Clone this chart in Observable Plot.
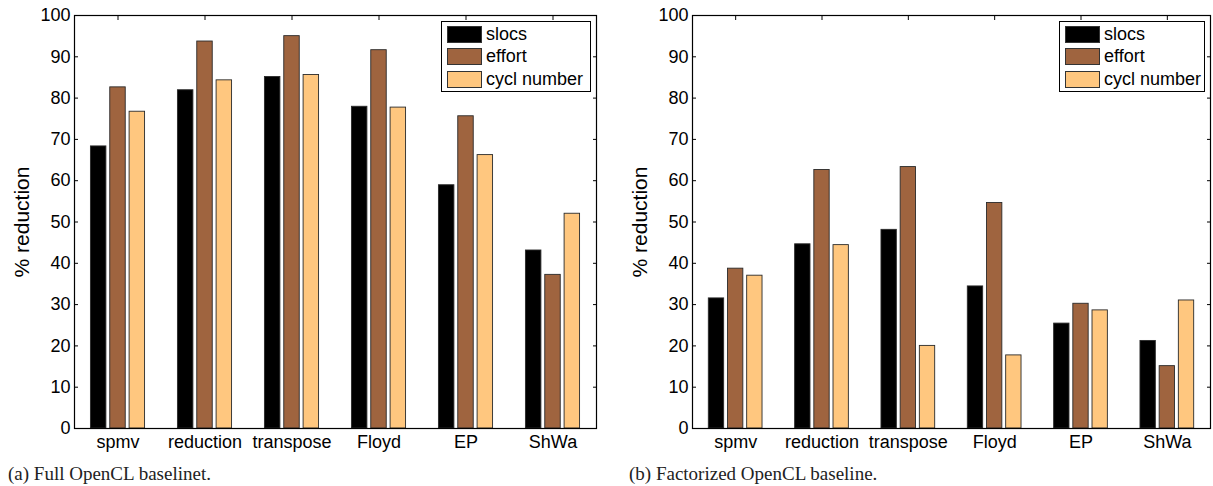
<!DOCTYPE html>
<html>
<head>
<meta charset="utf-8">
<script src="https://cdn.jsdelivr.net/npm/d3@7"></script>
<script src="https://cdn.jsdelivr.net/npm/@observablehq/plot@0.6"></script>
<style>
  body { margin: 0; background: white; }
  #root { position: relative; width: 1213px; height: 486px; background: white; overflow: hidden; }
  .panel { position: absolute; top: 0; }
  .caption { position: absolute; font-family: "Liberation Serif", serif; font-size: 19px; line-height: 22px; color: #222; white-space: nowrap; }
  .legend { position: absolute; box-sizing: border-box; height: 71px; border: 1px solid #000; background: #fff; font-family: "Liberation Sans", Arial, sans-serif; font-size: 18px; color: #000; }
  .legend .row { position: absolute; left: 5px; height: 18px; display: flex; align-items: center; white-space: nowrap; }
  .legend .sw { width: 35px; height: 17px; box-sizing: border-box; border: 1px solid #333; margin-right: 4px; }
</style>
</head>
<body>
<div id="root"></div>
<script>
const categories = ["spmv", "reduction", "transpose", "Floyd", "EP", "ShWa"];
const series = ["slocs", "effort", "cycl number"];
const seriesColors = ["#000000", "#9F643F", "#FFC77F"];
const yTicks = [0, 10, 20, 30, 40, 50, 60, 70, 80, 90, 100];
const yLabel = "% reduction";

// (a) Full OpenCL baseline
const fullSlocs  = [68.3, 81.9, 85.1, 77.9, 58.9, 43.1];
const fullEffort = [82.6, 93.7, 95.0, 91.6, 75.6, 37.2];
const fullCycl   = [76.7, 84.3, 85.6, 77.7, 66.2, 52.0];
const captionA = "(a) Full OpenCL baselinet.";

// (b) Factorized OpenCL baseline
const factSlocs  = [31.5, 44.6, 48.1, 34.4, 25.4, 21.2];
const factEffort = [38.7, 62.6, 63.3, 54.6, 30.2, 15.1];
const factCycl   = [37.0, 44.4, 20.0, 17.7, 28.6, 31.0];
const captionB = "(b) Factorized OpenCL baseline.";

function makePanel({values, left, width, marginLeft, marginRight, caption, captionLeft, legendLeft, legendWidth}) {
  const rows = [];
  series.forEach((s, j) => categories.forEach((c, i) => rows.push({cat: c, series: s, value: values[j][i]})));
  const step = (width - marginLeft - marginRight) / categories.length;
  const slot = step * 2 / 9;
  const half = slot * 0.4;

  const barMarks = series.map((s, j) => Plot.barY(rows.filter(r => r.series === s), {
    x: "cat", y: "value", fill: seriesColors[j], stroke: "#2a2a2a", strokeWidth: 0.9,
    insetLeft: step / 2 + (j - 1) * slot - half,
    insetRight: step / 2 - (j - 1) * slot - half
  }));

  const chart = Plot.plot({
    width, height: 455,
    marginLeft, marginRight, marginTop: 15, marginBottom: 27,
    style: {fontFamily: "Liberation Sans, Arial, sans-serif", fontSize: "18px", color: "#000", background: "white"},
    x: {type: "band", domain: categories, padding: 0, round: false, axis: null},
    y: {domain: [0, 100], axis: null},
    marks: [
      Plot.axisX({anchor: "top", tickSize: -4, tickFormat: () => "", label: null}),
      Plot.axisX({anchor: "bottom", tickSize: -4, tickFormat: () => "", label: null}),
      Plot.axisY({anchor: "left", ticks: yTicks, tickSize: -4, tickFormat: () => "", label: null}),
      Plot.axisY({anchor: "right", ticks: yTicks, tickSize: -4, tickFormat: () => "", label: null}),
      ...barMarks,
      Plot.axisX({anchor: "bottom", tickSize: 0, tickPadding: 7, fontSize: 18, label: null}),
      Plot.axisY({anchor: "left", ticks: yTicks, tickSize: 0, tickPadding: 4, fontSize: 18, label: null}),
      Plot.axisY({anchor: "left", ticks: [], label: yLabel, labelAnchor: "center", labelOffset: 60, labelArrow: "none", fontSize: 21}),
      Plot.frame({stroke: "#000", strokeWidth: 1.2})
    ]
  });

  const div = document.createElement("div");
  div.className = "panel";
  div.style.left = left + "px";
  div.appendChild(chart);
  document.getElementById("root").appendChild(div);

  const cap = document.createElement("div");
  cap.className = "caption";
  cap.style.left = captionLeft + "px";
  cap.style.top = "463px";
  cap.textContent = caption;
  document.getElementById("root").appendChild(cap);

  const leg = document.createElement("div");
  leg.className = "legend";
  leg.style.left = legendLeft + "px";
  leg.style.top = "21px";
  leg.style.width = legendWidth + "px";
  series.forEach((s, j) => {
    const row = document.createElement("div");
    row.className = "row";
    row.style.top = (3 + j * 22.7) + "px";
    const sw = document.createElement("div");
    sw.className = "sw";
    sw.style.background = seriesColors[j];
    const t = document.createElement("span");
    t.textContent = s;
    row.appendChild(sw);
    row.appendChild(t);
    leg.appendChild(row);
  });
  document.getElementById("root").appendChild(leg);
}

makePanel({values: [fullSlocs, fullEffort, fullCycl], left: 0, width: 606, marginLeft: 74, marginRight: 10,
  caption: captionA, captionLeft: 8, legendLeft: 441, legendWidth: 150});
makePanel({values: [factSlocs, factEffort, factCycl], left: 606, width: 607, marginLeft: 86, marginRight: 3,
  caption: captionB, captionLeft: 629, legendLeft: 1059, legendWidth: 146});
</script>
</body>
</html>
